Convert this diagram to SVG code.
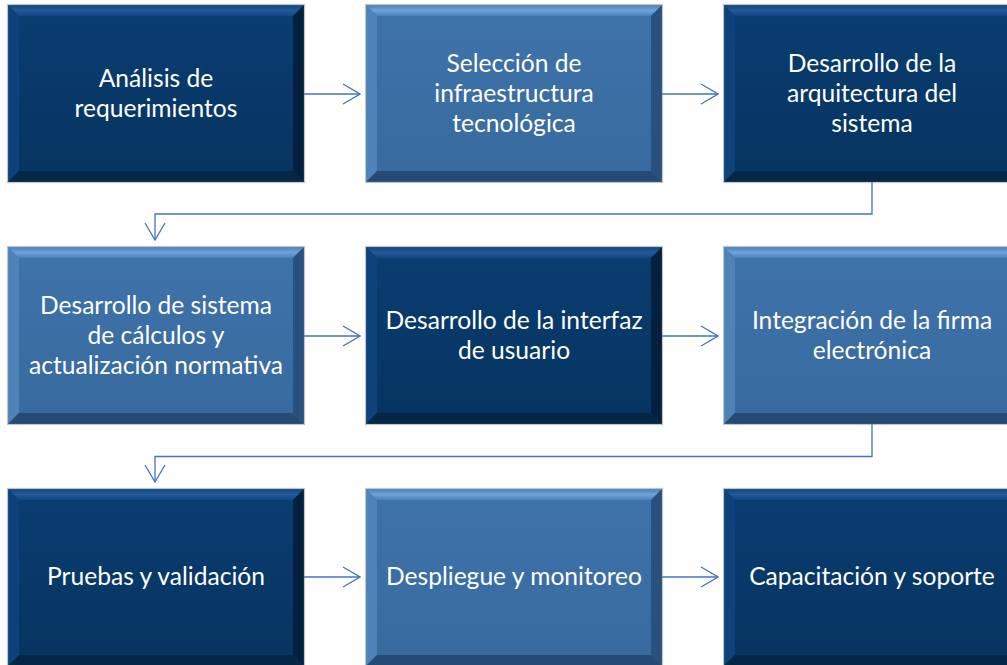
<svg xmlns="http://www.w3.org/2000/svg" width="1007" height="665" viewBox="0 0 1007 665">
<style>
.frame{stroke:#c4c4c4;stroke-width:1.2;fill:none}
.d .body{fill:url(#gd)}.d .t{fill:url(#gdt)}.d .l{fill:#0d427a}.d .r{fill:#03213f}.d .b{fill:#042647}
.lt .body{fill:url(#gl)}.lt .t{fill:url(#glt)}.lt .l{fill:#4f82b8}.lt .r{fill:#27527f}.lt .b{fill:#254b74}
text{font-family:Lato,"Open Sans","Liberation Sans",sans-serif;font-size:24.6px;fill:#ffffff;text-anchor:middle}
.conn{stroke:#4472C4;stroke-width:1.3;fill:none}
</style>
<defs>
<linearGradient id="gd" x1="0" y1="0" x2="0" y2="1"><stop offset="0" stop-color="#0a3d72"/><stop offset="1" stop-color="#06345f"/></linearGradient>
<linearGradient id="gl" x1="0" y1="0" x2="0" y2="1"><stop offset="0" stop-color="#3e73aa"/><stop offset="1" stop-color="#386a9e"/></linearGradient>
<linearGradient id="gdt" x1="0" y1="0" x2="0" y2="1"><stop offset="0" stop-color="#0f4680"/><stop offset="0.5" stop-color="#24599a"/><stop offset="1" stop-color="#0f4680"/></linearGradient>
<linearGradient id="glt" x1="0" y1="0" x2="0" y2="1"><stop offset="0" stop-color="#4b80ba"/><stop offset="0.5" stop-color="#6ea2da"/><stop offset="1" stop-color="#4b80ba"/></linearGradient>
<marker id="ah" viewBox="-18 -11 19 22" markerWidth="19" markerHeight="22" refX="0" refY="0" orient="auto" markerUnits="userSpaceOnUse">
<path d="M-17,-10 L0,0 L-17,10" stroke="#4472C4" stroke-width="1.3" fill="none"/>
</marker>
</defs>

<g id="n1" class="d">
<rect class="body" x="8" y="5" width="296" height="177"/>
<polygon class="t" points="8,5 304,5 293,16 19,16"/>
<polygon class="l" points="8,5 19,16 19,171 8,182"/>
<polygon class="r" points="304,5 304,182 293,171 293,16"/>
<polygon class="b" points="8,182 19,171 293,171 304,182"/>
<rect class="frame" x="7.5" y="4.5" width="297" height="178"/>
<text x="156" y="87">Análisis de</text>
<text x="156" y="117">requerimientos</text>
</g>

<g id="n2" class="lt">
<rect class="body" x="366" y="5" width="296" height="177"/>
<polygon class="t" points="366,5 662,5 651,16 377,16"/>
<polygon class="l" points="366,5 377,16 377,171 366,182"/>
<polygon class="r" points="662,5 662,182 651,171 651,16"/>
<polygon class="b" points="366,182 377,171 651,171 662,182"/>
<rect class="frame" x="365.5" y="4.5" width="297" height="178"/>
<text x="514" y="72">Selección de</text>
<text x="514" y="102">infraestructura</text>
<text x="514" y="132">tecnológica</text>
</g>

<g id="n3" class="d">
<rect class="body" x="724" y="5" width="296" height="177"/>
<polygon class="t" points="724,5 1020,5 1009,16 735,16"/>
<polygon class="l" points="724,5 735,16 735,171 724,182"/>
<polygon class="r" points="1020,5 1020,182 1009,171 1009,16"/>
<polygon class="b" points="724,182 735,171 1009,171 1020,182"/>
<rect class="frame" x="723.5" y="4.5" width="297" height="178"/>
<text x="872" y="72">Desarrollo de la</text>
<text x="872" y="102">arquitectura del</text>
<text x="872" y="132">sistema</text>
</g>

<g id="n4" class="lt">
<rect class="body" x="8" y="247" width="296" height="177"/>
<polygon class="t" points="8,247 304,247 293,258 19,258"/>
<polygon class="l" points="8,247 19,258 19,413 8,424"/>
<polygon class="r" points="304,247 304,424 293,413 293,258"/>
<polygon class="b" points="8,424 19,413 293,413 304,424"/>
<rect class="frame" x="7.5" y="246.5" width="297" height="178"/>
<text x="156" y="314">Desarrollo de sistema</text>
<text x="156" y="344">de cálculos y</text>
<text x="156" y="374">actualización normativa</text>
</g>

<g id="n5" class="d">
<rect class="body" x="366" y="247" width="296" height="177"/>
<polygon class="t" points="366,247 662,247 651,258 377,258"/>
<polygon class="l" points="366,247 377,258 377,413 366,424"/>
<polygon class="r" points="662,247 662,424 651,413 651,258"/>
<polygon class="b" points="366,424 377,413 651,413 662,424"/>
<rect class="frame" x="365.5" y="246.5" width="297" height="178"/>
<text x="514" y="329">Desarrollo de la interfaz</text>
<text x="514" y="359">de usuario</text>
</g>

<g id="n6" class="lt">
<rect class="body" x="724" y="247" width="296" height="177"/>
<polygon class="t" points="724,247 1020,247 1009,258 735,258"/>
<polygon class="l" points="724,247 735,258 735,413 724,424"/>
<polygon class="r" points="1020,247 1020,424 1009,413 1009,258"/>
<polygon class="b" points="724,424 735,413 1009,413 1020,424"/>
<rect class="frame" x="723.5" y="246.5" width="297" height="178"/>
<text x="872" y="329">Integración de la firma</text>
<text x="872" y="359">electrónica</text>
</g>

<g id="n7" class="d">
<rect class="body" x="8" y="489" width="296" height="177"/>
<polygon class="t" points="8,489 304,489 293,500 19,500"/>
<polygon class="l" points="8,489 19,500 19,655 8,666"/>
<polygon class="r" points="304,489 304,666 293,655 293,500"/>
<polygon class="b" points="8,666 19,655 293,655 304,666"/>
<rect class="frame" x="7.5" y="488.5" width="297" height="178"/>
<text x="156" y="585">Pruebas y validación</text>
</g>

<g id="n8" class="lt">
<rect class="body" x="366" y="489" width="296" height="177"/>
<polygon class="t" points="366,489 662,489 651,500 377,500"/>
<polygon class="l" points="366,489 377,500 377,655 366,666"/>
<polygon class="r" points="662,489 662,666 651,655 651,500"/>
<polygon class="b" points="366,666 377,655 651,655 662,666"/>
<rect class="frame" x="365.5" y="488.5" width="297" height="178"/>
<text x="514" y="585">Despliegue y monitoreo</text>
</g>

<g id="n9" class="d">
<rect class="body" x="724" y="489" width="296" height="177"/>
<polygon class="t" points="724,489 1020,489 1009,500 735,500"/>
<polygon class="l" points="724,489 735,500 735,655 724,666"/>
<polygon class="r" points="1020,489 1020,666 1009,655 1009,500"/>
<polygon class="b" points="724,666 735,655 1009,655 1020,666"/>
<rect class="frame" x="723.5" y="488.5" width="297" height="178"/>
<text x="872" y="585">Capacitación y soporte</text>
</g>

<g id="connectors">
<path class="conn" d="M304,94 H360" marker-end="url(#ah)"/>
<path class="conn" d="M662,94 H718" marker-end="url(#ah)"/>
<path class="conn" d="M872,182 V214 H155 V240" marker-end="url(#ah)"/>
<path class="conn" d="M304,336 H360" marker-end="url(#ah)"/>
<path class="conn" d="M662,336 H718" marker-end="url(#ah)"/>
<path class="conn" d="M872,424 V456.5 H155 V482" marker-end="url(#ah)"/>
<path class="conn" d="M304,577 H360" marker-end="url(#ah)"/>
<path class="conn" d="M662,577 H718" marker-end="url(#ah)"/>
</g>
</svg>
